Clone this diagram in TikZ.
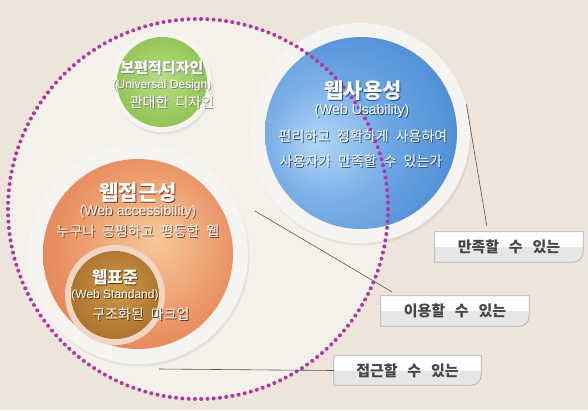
\documentclass[tikz,border=0pt]{standalone}
\usepackage{fontspec}
\setmainfont{Noto Sans CJK KR}
\newfontfamily\latf{Liberation Sans}
\usetikzlibrary{calc,backgrounds,shadows}

\definecolor{bg}{HTML}{EDE4DC}
\definecolor{areaC}{HTML}{F4F0EA}
\definecolor{ringC}{HTML}{F6F4F0}
\definecolor{dotC}{HTML}{B0389F}
\definecolor{boxgray}{HTML}{E6E6E6}
\definecolor{boxline}{HTML}{B4B4B4}
\definecolor{boxtxt}{HTML}{464646}
\definecolor{connC}{HTML}{555555}
\definecolor{gIn}{HTML}{B8DC84}
\definecolor{gMid}{HTML}{98C85C}
\definecolor{gOut}{HTML}{80B246}
\definecolor{bIn}{HTML}{A8D2F6}
\definecolor{bMid}{HTML}{6CA6E4}
\definecolor{bOut}{HTML}{4A8AD2}
\definecolor{oIn}{HTML}{F6C898}
\definecolor{oMid}{HTML}{EA9466}
\definecolor{oOut}{HTML}{DE7042}
\definecolor{brIn}{HTML}{CC9A48}
\definecolor{brMid}{HTML}{B27A34}
\definecolor{brOut}{HTML}{9C6220}
\definecolor{brRing}{HTML}{F2D6C4}

\pgfdeclareradialshading{greensh}{\pgfpoint{0bp}{2bp}}{color(0bp)=(gIn); color(22bp)=(gMid); color(46bp)=(gOut); color(50bp)=(gOut)}
\pgfdeclareradialshading{bluesh}{\pgfpoint{-12bp}{-3bp}}{color(0bp)=(bIn); color(16bp)=(bMid); color(34bp)=(bOut); color(50bp)=(bOut)}
\pgfdeclareradialshading{orangesh}{\pgfpoint{5bp}{4bp}}{color(0bp)=(oIn); color(22bp)=(oMid); color(42bp)=(oOut); color(50bp)=(oOut)}
\pgfdeclareradialshading{brownsh}{\pgfpoint{2bp}{4bp}}{color(0bp)=(brIn); color(22bp)=(brMid); color(42bp)=(brOut); color(50bp)=(brOut)}

\newcommand{\shd}[2]{\makebox[0pt][l]{\kern0.9pt\raisebox{-0.9pt}{\textcolor{#1}{#2}}}#2}
\newcommand{\mylabelbox}[1]{%
  \fill[white] (#1.north west) rectangle (#1.east);
  \fill[boxgray] (#1.west) -- (#1.east) -- ([yshift=10pt]#1.south east)
     arc[start angle=0,end angle=-90,radius=10pt] -- (#1.south west) -- cycle;
  \draw[boxline, line width=0.8pt] (#1.north west) -- (#1.north east) -- ([yshift=10pt]#1.south east)
     arc[start angle=0,end angle=-90,radius=10pt] -- (#1.south west) -- cycle;}

\tikzset{
  ring/.style={circle, inner sep=0, fill=ringC,
    drop shadow={opacity=0.12, shadow xshift=1.5pt, shadow yshift=-2.5pt}},
  disc/.style={circle, inner sep=0, shade, shading=#1},
  ttl/.style={text=white, inner sep=0, font=\bfseries\fontsize{#1}{#1}\selectfont},
  sub/.style={text=white, inner sep=0, font=\latf\fontsize{#1}{#1}\selectfont},
  hand/.style={text=white, inner sep=0, font=\fontsize{14}{14}\selectfont},
  lbox/.style={minimum width=148pt, minimum height=30pt, inner sep=0, text=boxtxt,
    font=\bfseries\fontsize{15}{15}\selectfont},
  conn/.style={draw=connC, line width=0.6pt},
  dots/.style={draw=dotC, line width=4pt, line cap=round, dash pattern=on 0pt off 6.2832pt},
}

\begin{document}
\begin{tikzpicture}[x=1pt,y=-1pt]
\begin{scope}[on background layer]
\fill[bg] (0,0) rectangle (588,410);
\end{scope}
\useasboundingbox (0,0) rectangle (588,410);

% dotted area
\node[circle, inner sep=0, minimum size=380pt, fill=areaC] (area) at (198,209) {};

% green
\node[ring, minimum size=100pt] (gring) at (162,82) {};
\node[disc=greensh, minimum size=90pt] (green) at (162,82) {};

% orange
\node[ring, minimum size=220pt] (oring) at (138,254) {};
\node[disc=orangesh, minimum size=190pt] (orange) at (138,254) {};

% brown
\node[circle, inner sep=0, minimum size=100pt, fill=brRing] (brring) at (115,295) {};
\node[disc=brownsh, minimum size=88pt] (brown) at (115,295) {};

% blue
\node[ring, minimum size=220pt] (bring) at (360,133) {};
\node[disc=bluesh, minimum size=192pt] (blue) at (361,133) {};
\begin{scope}
\clip (198,209) circle[radius=190];
\fill[white, opacity=0.1] (361,133) circle[radius=96];
\end{scope}

% dotted border
\draw[dots] (area.center) circle[radius=190];

% texts green
\node[ttl=15] (gt1) at (162,68) {\shd{black!50}{보편적디자인}};
\node[sub=12] (gt2) at (162,86) {\shd{black!50}{(Universal Design)}};
\node[hand] (gt3) at (172,103) {\shd{black!50}{관대한\hspace{0.5em}디자인}};

% texts blue
\node[ttl=21] (bt1) at (363,91) {\shd{bOut!55!black}{웹사용성}};
\node[sub=14] (bt2) at (362,111) {\shd{bOut!55!black}{(Web Usability)}};
\node[hand] (bt3) at (363,137) {\shd{bOut!55!black}{편리하고\hspace{0.5em}정확하게\hspace{0.5em}사용하여}};
\node[hand] (bt4) at (361,162) {\shd{bOut!55!black}{사용자가\hspace{0.5em}만족할\hspace{0.5em}수\hspace{0.5em}있는가}};

% texts orange
\node[ttl=21] (ot1) at (138,193) {\shd{oOut!55!black}{웹접근성}};
\node[sub=14] (ot2) at (138,212) {\shd{oOut!55!black}{(Web accessibility)}};
\node[hand] (ot3) at (138,232) {\shd{oOut!55!black}{누구나\hspace{0.5em}공평하고\hspace{0.5em}평등한\hspace{0.5em}웹}};

% texts brown
\node[ttl=16.5] (wt1) at (115,278) {\shd{brOut!55!black}{웹표준}};
\node[sub=12] (wt2) at (115,296) {\shd{brOut!55!black}{(Web Standand)}};
\node[hand] (wt3) at (141,315) {\shd{brOut!55!black}{구조화된\hspace{0.5em}마크업}};

% label boxes
\node[lbox] (b1) at (509,247) {만족할\hspace{0.65em}수\hspace{0.65em}있는};
\node[lbox] (b2) at (455,311) {이용할\hspace{0.65em}수\hspace{0.65em}있는};
\node[lbox, minimum width=147pt, minimum height=29pt] (b3) at (407.5,370.5) {접근할\hspace{0.65em}수\hspace{0.65em}있는};
\begin{scope}[on background layer]
\mylabelbox{b1}
\mylabelbox{b2}
\mylabelbox{b3}
\end{scope}

% connectors
\coordinate (l1e) at ($(b1.north west)+(52,-6)$);
\coordinate (l2s) at (255,211);
\coordinate (l2e) at ($(b2.north west)+(11,-4)$);
\coordinate (l3s) at (159,369);
\draw[conn] (bring.15) -- (l1e);
\draw[conn] (l2s) -- (l2e);
\draw[conn] (l3s) -- (b3.west);
\end{tikzpicture}
\end{document}
